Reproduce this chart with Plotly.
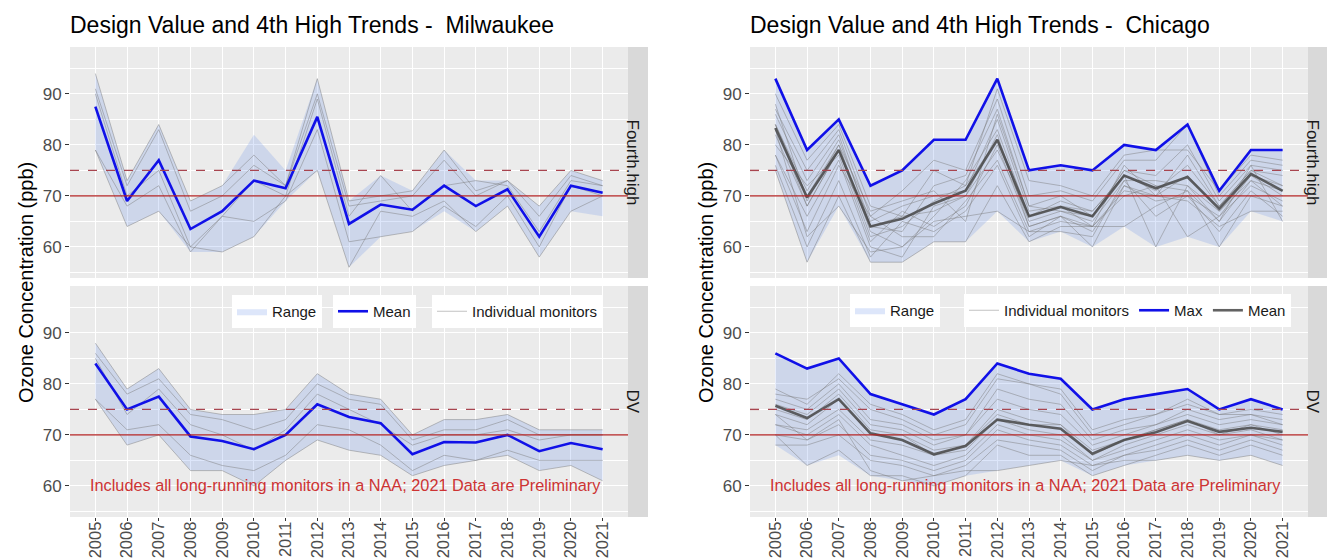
import plotly.graph_objects as go

W, H = 1335, 558
years = list(range(2005, 2022))
year_labels = [str(y) for y in years]

# ---------------- Milwaukee ----------------
mke_fh_mean = [87.5, 69, 77, 63.5, 67, 73, 71.5, 85.5, 64.5, 68.3, 67.3, 72, 68, 71.3, 62, 72, 70.6]
mke_fh_max = [94, 73, 84, 69, 72, 82, 75, 93, 69, 74, 71, 79, 73, 73, 68, 75, 73]
mke_fh_min = [79, 64, 67, 59, 59, 62, 69, 75, 56, 62, 63, 67, 63, 68, 58, 67, 66]
mke_fh_monitors = [
    [94, 73, 84, 69, 72, 78, 72, 93, 69, 70, 71, 79, 71, 73, 68, 75, 73],
    [91, 72, 83, 67, 70, 76, 72, 90, 68, 69, 70, 77, 70, 73, 66, 74, 72],
    [90, 70, 75, 60, 66, 73, 70, 89, 66, 74, 67, 72, 73, 72, 63, 73, 72],
    [79, 68, 72, 59, 66, 65, 69, 83, 61, 62, 63, 68, 64, 70, 60, 72, 70],
    [79, 64, 67, 60, 59, 62, 70, 75, 56, 67, 66, 69, 63, 68, 58, 67, 70],
]
mke_dv_mean = [84, 75, 77.5, 69.7, 68.8, 67.2, 70, 76, 73.5, 72.3, 66.2, 68.6, 68.5, 70, 66.8, 68.4, 67.2]
mke_dv_max = [88, 79, 83, 75, 74, 74, 75, 82, 78, 77, 70, 73, 73, 74, 71, 71, 71]
mke_dv_min = [77, 68, 70, 63, 63, 60, 65, 69, 67, 66, 62, 64, 65, 66, 63, 64, 61]
mke_dv_monitors = [
    [88, 79, 83, 75, 74, 74, 75, 82, 78, 77, 70, 73, 73, 74, 71, 71, 71],
    [86, 78, 81, 74, 73, 71, 73, 80, 77, 76, 69, 71, 71, 73, 70, 70, 70],
    [85, 74, 79, 72, 70, 67, 71, 78, 75, 72, 68, 70, 70, 71, 69, 70, 70],
    [77, 71, 72, 66, 64, 63, 66, 72, 71, 68, 63, 66, 65, 67, 65, 65, 65],
    [77, 68, 70, 63, 63, 60, 65, 69, 67, 66, 62, 64, 65, 66, 63, 64, 61],
]

# ---------------- Chicago ----------------
chi_fh_max = [93, 79, 85, 72, 75, 81, 81, 93, 75, 76, 75, 80, 79, 84, 71, 79, 79]
chi_fh_mean = [83.3, 69.7, 79, 64, 65.5, 68.5, 71, 81, 66, 67.8, 66, 74, 71.5, 73.7, 67.5, 74.3, 71]
chi_fh_min = [75, 57, 68, 57, 57, 61, 61, 67, 61, 63, 60, 64, 60, 62, 60, 67, 65]
chi_fh_monitors = [
    [90, 77, 84, 68, 66, 75, 72, 91, 73, 72, 70, 78, 79, 79, 71, 78, 77],
    [87, 75, 83, 66, 71, 77, 75, 89, 70, 71, 69, 77, 77, 84, 70, 77, 76],
    [86, 73, 82, 64, 63, 72, 74, 87, 68, 70, 66, 75, 74, 80, 69, 76, 75],
    [84, 71, 81, 65, 68, 70, 71, 85, 67, 68, 64, 76, 70, 78, 68, 75, 74],
    [84, 70, 80, 63, 60, 66, 73, 83, 66, 68, 67, 74, 71, 76, 68, 75, 72],
    [82, 68, 79, 62, 64, 69, 72, 81, 65, 67, 65, 73, 73, 72, 67, 74, 72],
    [80, 72, 78, 61, 67, 64, 68, 80, 64, 66, 60, 72, 69, 70, 66, 74, 70],
    [78, 66, 77, 60, 58, 68, 70, 79, 66, 69, 67, 74, 60, 72, 65, 73, 71],
    [78, 63, 76, 66, 62, 62, 69, 77, 63, 65, 64, 70, 72, 62, 66, 72, 69],
    [76, 60, 73, 58, 65, 63, 67, 76, 62, 66, 64, 64, 68, 71, 60, 70, 68],
    [75, 57, 70, 57, 57, 61, 61, 72, 61, 64, 64, 71, 70, 69, 64, 67, 67],
    [83, 62, 68, 59, 60, 65, 66, 67, 63, 63, 62, 73, 66, 70, 63, 71, 66],
    [88, 69, 80, 67, 69, 71, 65, 86, 68, 67, 66, 75, 72, 71, 65, 76, 65],
    [84, 68, 79, 64, 66, 67, 70, 82, 64, 66, 63, 72, 70, 74, 67, 73, 68],
]
chi_dv_max = [86, 83, 85, 78, 76, 74, 77, 84, 82, 81, 75, 77, 78, 79, 75, 77, 75]
chi_dv_mean = [75.7, 73.3, 77, 70.3, 69, 66.2, 67.8, 73, 72, 71.2, 66.3, 69, 70.5, 72.7, 70.6, 71.4, 70.6]
chi_dv_min = [68, 64, 66, 62, 61, 60, 62, 63, 64, 65, 62, 64, 65, 66, 65, 66, 64]
chi_dv_monitors = [
    [79, 76, 82, 76, 74, 71, 73, 82, 80, 79, 71, 73, 74, 77, 74, 75, 74],
    [78, 77, 81, 75, 73, 70, 72, 81, 80, 78, 70, 72, 74, 76, 74, 74, 73],
    [77, 75, 80, 73, 72, 69, 70, 79, 77, 76, 69, 71, 72, 75, 73, 74, 72],
    [76, 74, 79, 72, 71, 68, 70, 77, 75, 74, 68, 70, 72, 74, 72, 73, 72],
    [75, 73, 78, 71, 70, 67, 68, 75, 73, 72, 67, 69, 71, 73, 71, 72, 71],
    [74, 72, 77, 70, 70, 66, 68, 74, 72, 72, 66, 69, 71, 73, 70, 72, 70],
    [72, 71, 75, 69, 68, 66, 67, 73, 71, 70, 65, 68, 70, 72, 70, 71, 69],
    [72, 70, 74, 68, 66, 64, 66, 72, 70, 69, 65, 67, 69, 71, 69, 70, 69],
    [70, 69, 72, 66, 65, 63, 65, 71, 69, 68, 64, 66, 68, 70, 68, 70, 68],
    [68, 68, 70, 65, 64, 62, 64, 69, 68, 67, 63, 66, 67, 69, 67, 69, 67],
    [70, 64, 67, 62, 62, 60, 62, 68, 66, 66, 62, 64, 66, 68, 66, 68, 66],
    [74, 69, 73, 63, 61, 62, 63, 63, 64, 65, 64, 65, 65, 66, 65, 66, 64],
]

titles = ["Design Value and 4th High Trends -  Milwaukee", "Design Value and 4th High Trends -  Chicago"]
strip_labels = ["Fourth.high", "DV"]
note_text = "Includes all long-running monitors in a NAA; 2021 Data are Preliminary"
y_title = "Ozone Concentration (ppb)"

FONT = "Liberation Sans, Arial, sans-serif"
RANGE_FILL = "rgba(100,140,230,0.22)"
MON_COLOR = "rgba(120,120,120,0.45)"
BLUE = "#1010E8"
DARK = "rgba(70,70,70,0.85)"

fig = go.Figure()

def px_x(p):
    return p / W

def px_y(p):
    return 1 - p / H

# axis pixel geometry
x_doms = [(62, 620), (742, 1300)]
y_doms = [(39, 270), (278, 509)]
STRIP_W = 20

def axis_names(chart, panel):
    idx = chart * 2 + panel + 1
    s = "" if idx == 1 else str(idx)
    return "x" + s, "y" + s

def add_range(xa, ya, lo, hi, legend, show):
    fig.add_trace(go.Scatter(x=years, y=lo, mode="lines", line=dict(width=0),
                             xaxis=xa, yaxis=ya, showlegend=False, hoverinfo="skip"))
    fig.add_trace(go.Scatter(x=years, y=hi, mode="lines", line=dict(width=0),
                             fill="tonexty", fillcolor=RANGE_FILL, name="Range",
                             xaxis=xa, yaxis=ya, showlegend=show, legend=legend))

def add_monitors(xa, ya, monitors, legend, show):
    for i, m in enumerate(monitors):
        fig.add_trace(go.Scatter(x=years, y=m, mode="lines",
                                 line=dict(color=MON_COLOR, width=1),
                                 name="Individual monitors", xaxis=xa, yaxis=ya,
                                 showlegend=(show and i == 0), legend=legend))

# Milwaukee panels
for panel, (lo, hi, mons, mean) in enumerate([
        (mke_fh_min, mke_fh_max, mke_fh_monitors, mke_fh_mean),
        (mke_dv_min, mke_dv_max, mke_dv_monitors, mke_dv_mean)]):
    xa, ya = axis_names(0, panel)
    show = panel == 1
    add_range(xa, ya, lo, hi, "legend", show)
    add_monitors(xa, ya, mons, "legend3", show)
    fig.add_trace(go.Scatter(x=years, y=mean, mode="lines", line=dict(color=BLUE, width=2.6),
                             name="Mean", xaxis=xa, yaxis=ya, showlegend=show, legend="legend2"))

# Chicago panels
for panel, (lo, hi, mons, mean) in enumerate([
        (chi_fh_min, chi_fh_max, chi_fh_monitors, chi_fh_mean),
        (chi_dv_min, chi_dv_max, chi_dv_monitors, chi_dv_mean)]):
    xa, ya = axis_names(1, panel)
    show = panel == 1
    add_range(xa, ya, lo, hi, "legend4", show)
    add_monitors(xa, ya, mons, "legend5", show)
    fig.add_trace(go.Scatter(x=years, y=hi, mode="lines", line=dict(color=BLUE, width=2.6),
                             name="Max", xaxis=xa, yaxis=ya, showlegend=show, legend="legend5"))
    fig.add_trace(go.Scatter(x=years, y=mean, mode="lines", line=dict(color=DARK, width=2.6),
                             name="Mean", xaxis=xa, yaxis=ya, showlegend=show, legend="legend5"))

layout = dict(
    width=W, height=H, margin=dict(l=0, r=0, t=0, b=0),
    paper_bgcolor="white", plot_bgcolor="#EBEBEB",
    font=dict(family=FONT, color="#1A1A1A"),
    shapes=[], annotations=[],
)

for chart in range(2):
    for panel in range(2):
        xa, ya = axis_names(chart, panel)
        xkey = "xaxis" + xa[1:]
        ykey = "yaxis" + ya[1:]
        x0, x1 = x_doms[chart]
        y0, y1 = y_doms[panel]
        layout[xkey] = dict(
            domain=[px_x(x0), px_x(x1)], anchor=ya, range=[2004.2, 2021.8],
            tickmode="array", tickvals=years, ticktext=year_labels,
            showticklabels=(panel == 1), tickangle=-90,
            ticks="outside" if panel == 1 else "", ticklen=3, tickcolor="#333333",
            ticklabelstandoff=-6,
            tickfont=dict(size=16.5, color="#4D4D4D", family=FONT),
            showgrid=True, gridcolor="white", gridwidth=1.3, zeroline=False, showline=False,
        )
        layout[ykey] = dict(
            domain=[px_y(y1), px_y(y0)], anchor=xa, range=[53.9, 99.2],
            tickmode="linear", tick0=60, dtick=10,
            ticks="outside", ticklen=4, tickcolor="#333333",
            tickfont=dict(size=17, color="#4D4D4D", family=FONT),
            showgrid=True, gridcolor="white", gridwidth=1.3, zeroline=False, showline=False,
            minor=dict(dtick=5, showgrid=True, gridcolor="white", gridwidth=0.6, ticks=""),
        )
        # reference lines
        layout["shapes"].append(dict(type="line", xref=xa + " domain", yref=ya,
                                     x0=0, x1=1, y0=70, y1=70,
                                     line=dict(color="#B22222", width=1.4)))
        layout["shapes"].append(dict(type="line", xref=xa + " domain", yref=ya,
                                     x0=0, x1=1, y0=75, y1=75,
                                     line=dict(color="#A8454F", width=1.4, dash="dash")))
        # strip
        sx0 = x1
        sx1 = x1 + STRIP_W
        layout["shapes"].append(dict(type="rect", xref="paper", yref=ya + " domain",
                                     x0=px_x(sx0), x1=px_x(sx1), y0=0, y1=1,
                                     fillcolor="#D9D9D9", line=dict(width=0), layer="below"))
        layout["annotations"].append(dict(text=strip_labels[panel], xref="paper", yref=ya + " domain",
                                          x=px_x((sx0 + sx1) / 2 - 6), y=0.5, showarrow=False,
                                          xanchor="center", yanchor="middle",
                                          textangle=90, font=dict(size=17, color="#1A1A1A", family=FONT)))
        if panel == 1:
            layout["annotations"].append(dict(text=note_text, xref=xa, yref=ya, x=2012.9, y=60.1,
                                              showarrow=False,
                                              font=dict(size=16.3, color="#CD3333", family=FONT)))
    # title
    layout["annotations"].append(dict(text=titles[chart], xref="paper", yref="paper",
                                      x=px_x(x_doms[chart][0] - 2), y=px_y(2), xanchor="left",
                                      yanchor="top", showarrow=False,
                                      font=dict(size=23, color="#000000", family=FONT)))
    # y-axis title
    layout["annotations"].append(dict(text=y_title, xref="paper", yref="paper",
                                      x=px_x(x_doms[chart][0] - 44), y=px_y(275), textangle=-90,
                                      showarrow=False, xanchor="center", yanchor="middle",
                                      font=dict(size=20, color="#000000", family=FONT)))

leg_common = dict(bgcolor="white", borderwidth=0, font=dict(size=15, color="#1A1A1A", family=FONT),
                  xanchor="left", yanchor="top", orientation="h", itemwidth=30, tracegroupgap=0)
layout["legend"] = dict(x=px_x(224), y=px_y(287), **leg_common)
layout["legend2"] = dict(x=px_x(325), y=px_y(287), **leg_common)
layout["legend3"] = dict(x=px_x(424), y=px_y(287), **leg_common)
layout["legend4"] = dict(x=px_x(842), y=px_y(286), **leg_common)
layout["legend5"] = dict(x=px_x(956), y=px_y(286), **leg_common)

fig.update_layout(**layout)
fig.write_html("out.html")
